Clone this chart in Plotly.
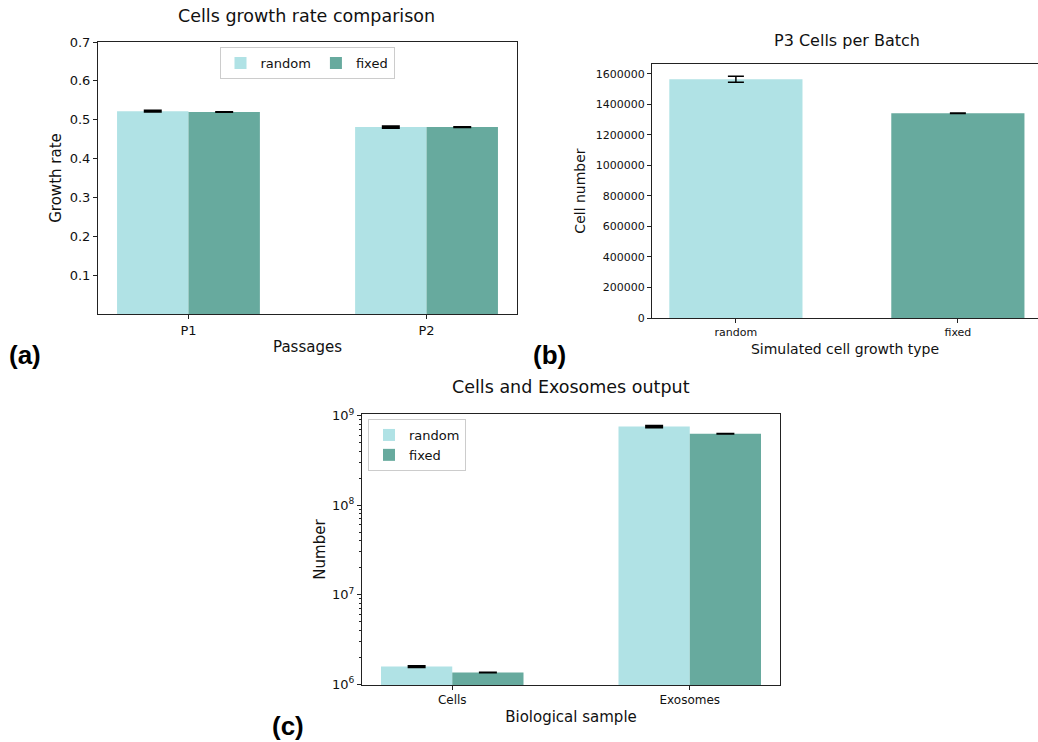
import plotly.graph_objects as go

W, H = 1038, 742

# ---------------- data ----------------
passages = ["P1", "P2"]
growth_random = [0.522, 0.481]
growth_random_err = [0.0015, 0.0025]
growth_fixed = [0.520, 0.481]
growth_fixed_err = [0.0008, 0.0008]

growth_types = ["random", "fixed"]
p3_cells = [1565000, 1342000]
p3_cells_err = [20000, 1500]

samples = ["Cells", "Exosomes"]
output_random = [1565000, 7.55e8]
output_random_err = [25000, 1.5e7]
output_fixed = [1342000, 6.3e8]
output_fixed_err = [8000, 4e6]

log_tickvals = [1e6, 1e7, 1e8, 1e9]
log_ticktext = ["10<sup>6</sup>", "10<sup>7</sup>", "10<sup>8</sup>", "10<sup>9</sup>"]
log_minor_vals = [m * 10 ** e for e in (6, 7, 8) for m in range(2, 10)]

C_RANDOM = "#b0e2e5"
C_FIXED = "#67aa9e"
FONT = "DejaVu Sans"

def px_x(p):
    return p / W

def px_y(p):
    return 1 - p / H

fig = go.Figure()

# ---- panel (a) ----
fig.add_trace(go.Bar(x=passages, y=growth_random, name="random", width=0.3, offset=-0.3,
                     marker=dict(color=C_RANDOM, line=dict(width=0)),
                     error_y=dict(type="data", array=growth_random_err, color="black", thickness=2, width=9),
                     xaxis="x", yaxis="y", legend="legend"))
fig.add_trace(go.Bar(x=passages, y=growth_fixed, name="fixed", width=0.3, offset=0,
                     marker=dict(color=C_FIXED, line=dict(width=0)),
                     error_y=dict(type="data", array=growth_fixed_err, color="black", thickness=1.5, width=9),
                     xaxis="x", yaxis="y", legend="legend"))

# ---- panel (b) ----
fig.add_trace(go.Bar(x=growth_types, y=p3_cells, width=0.6,
                     marker=dict(color=[C_RANDOM, C_FIXED], line=dict(width=0)),
                     error_y=dict(type="data", array=p3_cells_err, color="black", thickness=1.5, width=8),
                     xaxis="x2", yaxis="y2", showlegend=False))

# ---- panel (c) ----
fig.add_trace(go.Bar(x=samples, y=output_random, name="random", width=0.3, offset=-0.3,
                     marker=dict(color=C_RANDOM, line=dict(width=0)),
                     error_y=dict(type="data", array=output_random_err, color="black", thickness=2, width=9),
                     xaxis="x3", yaxis="y3", legend="legend2"))
fig.add_trace(go.Bar(x=samples, y=output_fixed, name="fixed", width=0.3, offset=0,
                     marker=dict(color=C_FIXED, line=dict(width=0)),
                     error_y=dict(type="data", array=output_fixed_err, color="black", thickness=1.5, width=9),
                     xaxis="x3", yaxis="y3", legend="legend2"))

axis_common = dict(showline=True, linecolor="#222", linewidth=1, mirror=True, showgrid=False,
                   zeroline=False, ticks="outside", ticklen=4, tickcolor="#222",
                   tickfont=dict(family=FONT, size=13, color="#111"))

fig.update_layout(
    width=W, height=H,
    margin=dict(l=0, r=0, t=0, b=0, autoexpand=False),
    paper_bgcolor="white", plot_bgcolor="white",
    font=dict(family=FONT, color="#111"),
    barmode="overlay",
    xaxis=dict(axis_common, domain=[px_x(98), px_x(517)], anchor="y", range=[-0.38, 1.38],
               title=dict(text="Passages", font=dict(size=15), standoff=4)),
    yaxis=dict(axis_common, domain=[px_y(314), px_y(42)], anchor="x", range=[0, 0.7],
               tickvals=[0.1, 0.2, 0.3, 0.4, 0.5, 0.6, 0.7], tickformat=".1f",
               title=dict(text="Growth rate", font=dict(size=15), standoff=4)),
    xaxis2=dict(axis_common, domain=[px_x(652), 1.0], anchor="y2", range=[-0.378, 1.361],
                tickfont=dict(family=FONT, size=11, color="#111"),
                title=dict(text="Simulated cell growth type", font=dict(size=14), standoff=5)),
    yaxis2=dict(axis_common, domain=[px_y(318), px_y(64)], anchor="x2", range=[0, 1665000],
                tickvals=list(range(0, 1600001, 200000)), tickformat="d",
                tickfont=dict(family=FONT, size=11, color="#111"),
                title=dict(text="Cell number", font=dict(size=14), standoff=6)),
    xaxis3=dict(axis_common, domain=[px_x(362), px_x(780)], anchor="y3", range=[-0.38, 1.38],
                tickfont=dict(family=FONT, size=12, color="#111"),
                title=dict(text="Biological sample", font=dict(size=15), standoff=5)),
    yaxis3=dict(axis_common, domain=[px_y(685), px_y(414)], anchor="x3", type="log",
                range=[5.989, 9.019], tickvals=log_tickvals, ticktext=log_ticktext,
                tickfont=dict(family=FONT, size=13, color="#111"),
                minor=dict(ticks="outside", ticklen=2, tickcolor="#222", showgrid=False,
                           tickvals=log_minor_vals),
                title=dict(text="Number", font=dict(size=15), standoff=2)),
    legend=dict(orientation="h", x=px_x(307), xanchor="center", y=px_y(47), yanchor="top",
                bordercolor="#cccccc", borderwidth=1, bgcolor="rgba(255,255,255,0.8)",
                font=dict(family=FONT, size=13), itemwidth=30, tracegroupgap=0),
    legend2=dict(orientation="v", x=px_x(368), xanchor="left", y=px_y(419), yanchor="top",
                 bordercolor="#cccccc", borderwidth=1, bgcolor="rgba(255,255,255,0.8)",
                 font=dict(family=FONT, size=13), itemwidth=30, tracegroupgap=0),
    annotations=[
        dict(text="Cells growth rate comparison", x=px_x(307), y=px_y(16), xref="paper", yref="paper",
             showarrow=False, font=dict(family=FONT, size=17.5, color="#111"), xanchor="center", yanchor="middle"),
        dict(text="P3 Cells per Batch", x=px_x(847), y=px_y(40), xref="paper", yref="paper",
             showarrow=False, font=dict(family=FONT, size=16, color="#111"), xanchor="center", yanchor="middle"),
        dict(text="Cells and Exosomes output", x=px_x(571), y=px_y(387), xref="paper", yref="paper",
             showarrow=False, font=dict(family=FONT, size=17.5, color="#111"), xanchor="center", yanchor="middle"),
        dict(text="<b>(a)</b>", x=px_x(25), y=px_y(355), xref="paper", yref="paper",
             showarrow=False, font=dict(family="Liberation Sans", size=26, color="black"), xanchor="center", yanchor="middle"),
        dict(text="<b>(b)</b>", x=px_x(549), y=px_y(355), xref="paper", yref="paper",
             showarrow=False, font=dict(family="Liberation Sans", size=26, color="black"), xanchor="center", yanchor="middle"),
        dict(text="<b>(c)</b>", x=px_x(288), y=px_y(726), xref="paper", yref="paper",
             showarrow=False, font=dict(family="Liberation Sans", size=26, color="black"), xanchor="center", yanchor="middle"),
    ],
)

fig.write_html("out.html", config={"displayModeBar": False},
               post_script="document.body.style.margin='0';document.body.style.padding='0';"
                           "document.body.style.overflow='hidden';")
